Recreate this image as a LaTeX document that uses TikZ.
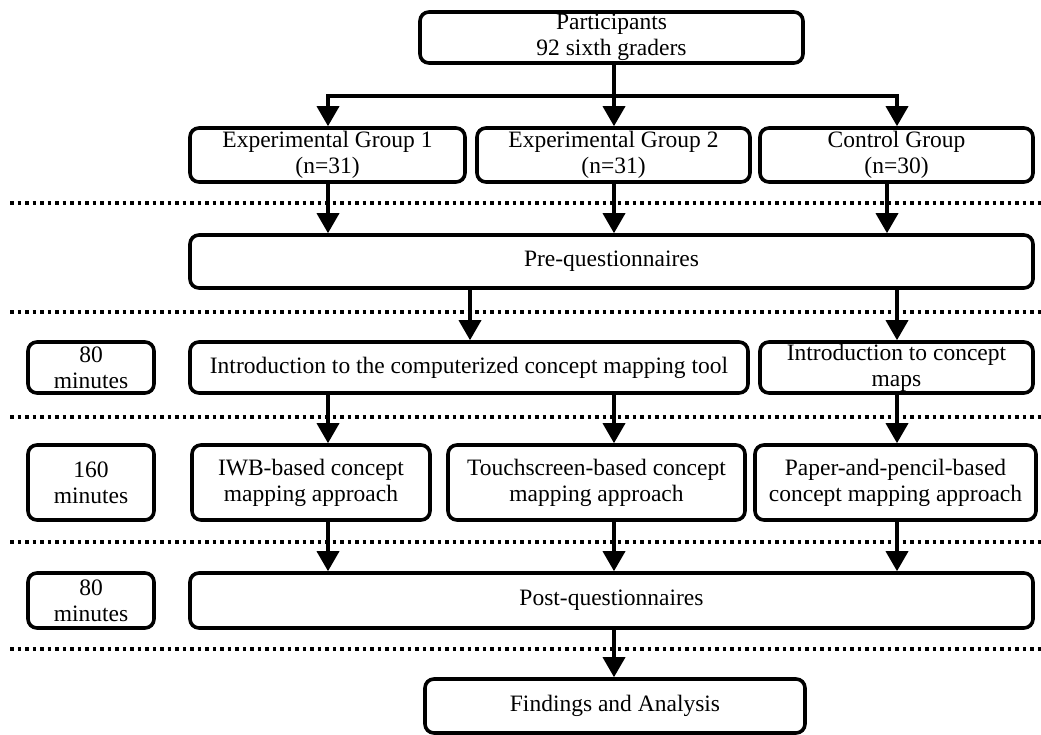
\documentclass[tikz,border=0pt]{standalone}
\usepackage{fontspec}
\setmainfont{Liberation Serif}
\usetikzlibrary{arrows.meta}
\begin{document}
\begin{tikzpicture}[x=1pt,y=-1pt,
  box/.style={draw,line width=3.6pt,rounded corners=9pt,align=center,
    inner sep=0pt,font=\fontsize{23.5}{26}\selectfont},
  flow/.style={line width=3.6pt,-{Triangle[length=20pt,width=22pt]}},
  divider/.style={line width=3.5pt,dash pattern=on 3.5pt off 4pt}
]
\useasboundingbox (0,0) rectangle (1041,734);
\foreach \y in {203,312,417,542,649}
  \draw[divider] (10,\y) -- (1041,\y);
\coordinate (c1) at (328,0);
\coordinate (c2) at (614,0);
\coordinate (c3) at (897,0);
\coordinate (cctl) at (887,0);
\coordinate (cpre) at (470,0);
\coordinate (split) at (614,96);
\node[box,minimum width=383pt,minimum height=51pt] (part) at (611.5,37.5) {Participants\\92 sixth graders};
\node[box,minimum width=275pt,minimum height=54pt] (eg1) at (327.5,155) {Experimental Group 1\\(n=31)};
\node[box,minimum width=273pt,minimum height=54pt] (eg2) at (613.5,155) {Experimental Group 2\\(n=31)};
\node[box,minimum width=273pt,minimum height=54pt] (ctrl) at (896.5,155) {Control Group\\(n=30)};
\node[box,minimum width=843pt,minimum height=53pt] (pre) at (611.5,261.5) {Pre-questionnaires};
\node[box,minimum width=126pt,minimum height=51pt] (time1) at (91,367.5) {80\\minutes};
\node[box,minimum width=558pt,minimum height=51pt] (introtool) at (469,367.5) {Introduction to the computerized concept mapping tool};
\node[box,minimum width=273pt,minimum height=51pt] (intromaps) at (896.5,367.5) {Introduction to concept\\maps};
\node[box,minimum width=126pt,minimum height=75pt] (time2) at (91,482.5) {160\\minutes};
\node[box,minimum width=238pt,minimum height=75pt] (iwb) at (311,482.5) {IWB-based concept\\mapping approach};
\node[box,minimum width=297pt,minimum height=75pt] (touch) at (596.5,482.5) {Touchscreen-based concept\\mapping approach};
\node[box,minimum width=281pt,minimum height=75pt] (paper) at (895.5,482.5) {Paper-and-pencil-based\\concept mapping approach};
\node[box,minimum width=126pt,minimum height=55pt] (time3) at (91,600.5) {80\\minutes};
\node[box,minimum width=843pt,minimum height=55pt] (post) at (611.5,600.5) {Post-questionnaires};
\node[box,minimum width=380pt,minimum height=54pt] (find) at (615,706) {Findings and Analysis};
\draw[flow] (part.south -| c2) -- (eg2.north -| c2);
\draw[flow,{Triangle[length=20pt,width=22pt]}-{Triangle[length=20pt,width=22pt]}] (eg1.north -| c1) -- (split -| c1) -- (split -| c3) -- (ctrl.north -| c3);
\foreach \a/\b/\c in {eg1/pre/c1,eg2/pre/c2,ctrl/pre/cctl,pre/introtool/cpre,pre/intromaps/c3,
  introtool/iwb/c1,introtool/touch/c2,intromaps/paper/c3,iwb/post/c1,touch/post/c2,paper/post/c3,post/find/c2}
  \draw[flow] (\a.south -| \c) -- (\b.north -| \c);
\end{tikzpicture}
\end{document}
